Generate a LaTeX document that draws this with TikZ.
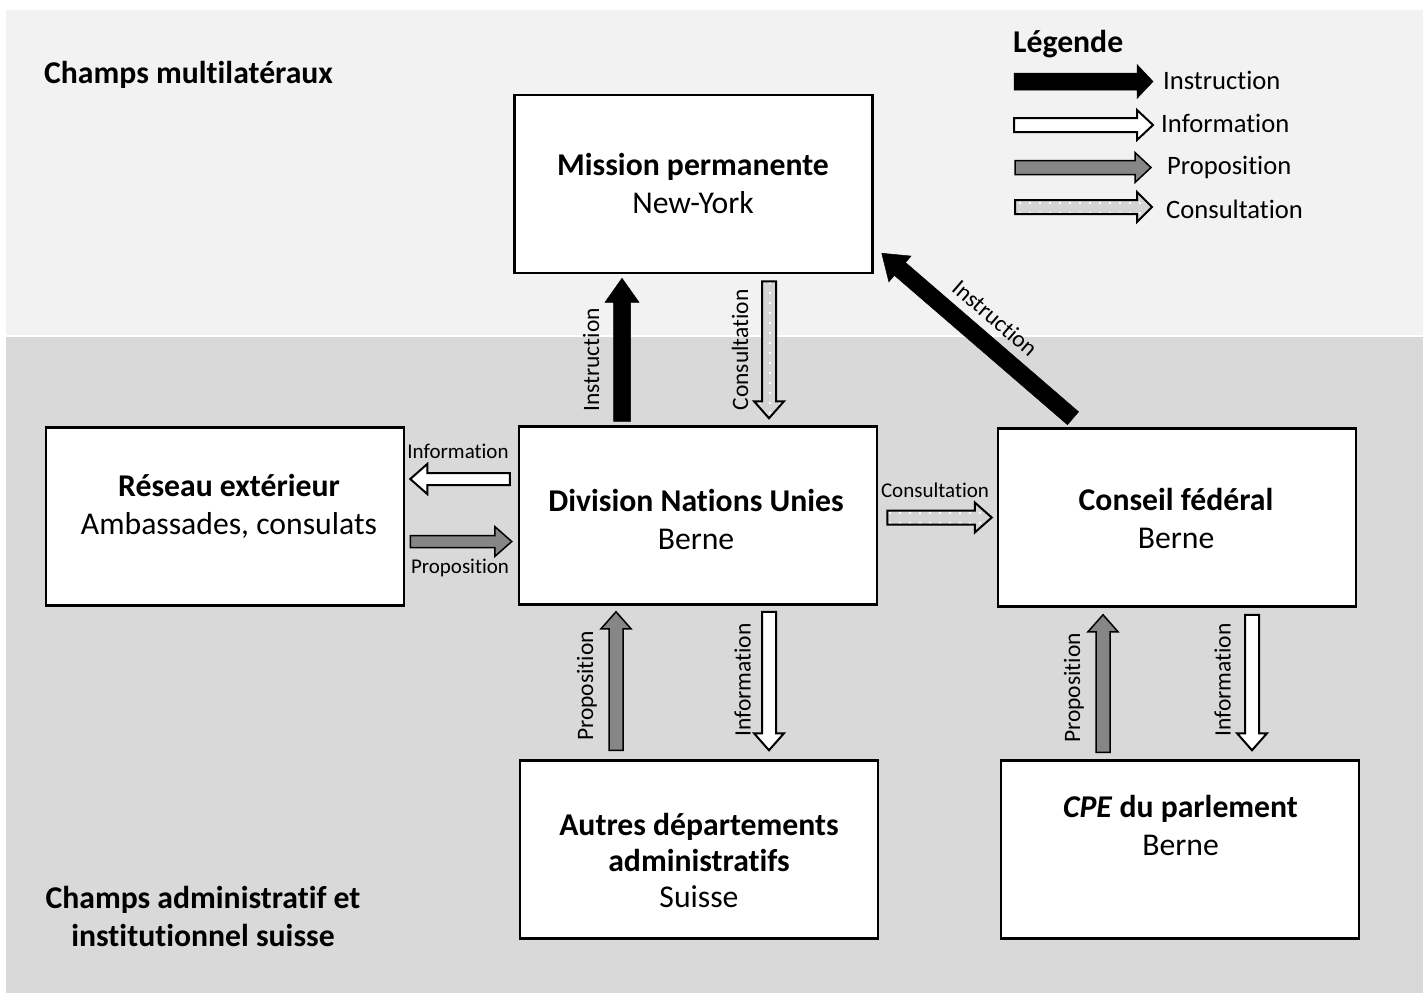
\documentclass[tikz,border=0pt]{standalone}
\usepackage{fontspec}
\setmainfont{Carlito}[Ligatures=NoCommon]
\usetikzlibrary{calc,patterns.meta}

\definecolor{bgtop}{HTML}{F2F2F2}
\definecolor{bgbot}{HTML}{D9D9D9}
\definecolor{propfill}{HTML}{868686}
\definecolor{consfill}{HTML}{D4D4D4}

\tikzset{box/.style={draw,line width=2.5pt,fill=white,minimum width=358pt,minimum height=178pt,inner sep=0pt}}
\tikzset{boxtext/.style={align=center,inner sep=0pt,font=\fontsize{31.7}{38}\selectfont}}
\tikzset{title/.style={inner sep=0pt,font=\bfseries\fontsize{31.7}{38}\selectfont}}
\tikzset{lbl/.style={inner sep=0pt,font=\fontsize{21}{24}\selectfont}}
\tikzset{vlbl/.style={inner sep=0pt,rotate=90,font=\fontsize{23.5}{26}\selectfont}}
\tikzset{leglbl/.style={inner sep=0pt,anchor=west,font=\fontsize{26.6}{30}\selectfont}}
% block arrow sizes (half shaft, half head, head length)
\tikzset{ba shaft/.store in=\bashaft,ba head/.store in=\bahead,ba len/.store in=\balen,
  ba shaft=7pt,ba head=15pt,ba len=17pt}
\tikzset{instrarrow/.style={fill=black,draw=black,line width=0.5pt,ba shaft=8.5pt,ba head=17pt,ba len=24pt}}
\tikzset{infoarrow/.style={fill=white,draw=black,line width=2pt}}
\tikzset{proparrow/.style={fill=propfill,draw=black,line width=1.5pt}}
\tikzset{consarrow/.style={preaction={fill=consfill},pattern={Dots[distance=10pt,radius=1.4pt]},
  pattern color=white,draw=black,line width=2pt}}

\newcommand{\blockarrow}[3][]{%
  \begin{scope}[#1]
    \coordinate (ba-a) at (#2);
    \coordinate (ba-b) at (#3);
    \coordinate (ba-c) at ($(ba-b)!\balen!(ba-a)$);
    \path[#1] ($(ba-a)!\bashaft!90:(ba-b)$) -- ($(ba-c)!\bashaft!-90:(ba-a)$)
      -- ($(ba-c)!\bahead!-90:(ba-a)$) -- (ba-b)
      -- ($(ba-c)!\bahead!90:(ba-a)$) -- ($(ba-c)!\bashaft!90:(ba-a)$)
      -- ($(ba-a)!\bashaft!-90:(ba-b)$) -- cycle;
  \end{scope}}

\begin{document}
\begin{tikzpicture}[x=1pt,y=-1pt]
  \useasboundingbox (0,0) rectangle (1423,993);
  % the two fields
  \fill[bgtop] (6,10) rectangle (1423,335);
  \fill[bgbot] (6,337) rectangle (1423,993);
  \node[title,anchor=west] (field1) at (44,75) {Champs multilatéraux};
  \node[title,align=center] (field2) at (203,916) {Champs administratif et\\institutionnel suisse};

  % the boxes
  \node[box] (mis) at (693.5,184) {};
  \node[box] (res) at (225,516.5) {};
  \node[box] (dnu) at (698,515.5) {};
  \node[box] (cf) at (1177,517.5) {};
  \node[box] (aut) at (699,849.5) {};
  \node[box] (cpe) at (1180,849.5) {};

  \node[boxtext] (mis-t) at ($(mis)+(-0.5,-1)$) {\textbf{Mission permanente}\\New-York};
  \node[boxtext] (res-t) at ($(res)+(4,-10.5)$) {\textbf{Réseau extérieur}\\Ambassades, consulats};
  \node[boxtext] (dnu-t) at ($(dnu)+(-2,4)$) {\textbf{Division Nations Unies}\\Berne};
  \node[boxtext] (cf-t) at ($(cf)+(-1,0.5)$) {\textbf{Conseil fédéral}\\Berne};
  \node[boxtext,font=\fontsize{31.7}{36}\selectfont] (aut-t) at ($(aut)+(0,10.5)$)
    {\textbf{Autres départements}\\\textbf{administratifs}\\Suisse};
  \node[boxtext] (cpe-t) at ($(cpe)+(0.5,-24)$) {\textbf{\textit{CPE} du parlement}\\Berne};

  % arrows between the boxes
  \blockarrow[instrarrow]{$(dnu.north)+(-76,-4)$}{$(dnu.north |- mis.south)+(-76,4)$}
  \blockarrow[consarrow]{$(dnu.north |- mis.south)+(71,7)$}{$(dnu.north)+(71,-7)$}
  \blockarrow[instrarrow]{$(cf.north)+(-104,-9)$}{$(mis.south east)+(8,-21)$}
  \blockarrow[infoarrow,ba shaft=6pt]{$(dnu.west)+(-8,-36.5)$}{$(res.east)+(5,-37.5)$}
  \blockarrow[proparrow,ba shaft=6pt]{$(res.east)+(5,25)$}{$(dnu.west)+(-6,26)$}
  \blockarrow[consarrow]{$(dnu.east)+(9,2)$}{$(cf.west)+(-5,0)$}
  \blockarrow[proparrow]{$(aut.north)+(-83,-9)$}{$(dnu.south)+(-82,6)$}
  \blockarrow[infoarrow]{$(dnu.south)+(71,6)$}{$(aut.north)+(70,-9)$}
  \blockarrow[proparrow]{$(cpe.north)+(-77,-7)$}{$(cf.south)+(-74,7)$}
  \blockarrow[infoarrow]{$(cf.south)+(75,7)$}{$(cpe.north)+(72,-9)$}

  % arrow labels
  \node[vlbl] (l-instr) at (591,360) {Instruction};
  \node[vlbl] (l-cons) at (740,350) {Consultation};
  \node[lbl,rotate=-40.8,font=\fontsize{23.5}{26}\selectfont] (l-instr2) at (995,318) {Instruction};
  \node[lbl] (l-info) at (458,451) {Information};
  \node[lbl] (l-prop) at (460,568) {Proposition};
  \node[lbl] (l-cons2) at (935,490) {Consultation};
  \node[vlbl] (l-prop2) at (587,686) {Proposition};
  \node[vlbl] (l-info2) at (742.5,680) {Information};
  \node[vlbl] (l-prop3) at (1074,688) {Proposition};
  \node[vlbl] (l-info3) at (1222.5,680) {Information};

  % legend
  \node[title,anchor=west] (leg) at (1013,44) {Légende};
  \node[leglbl] (lg-instr) at (1163,80) {Instruction};
  \node[leglbl] (lg-info) at (1161,123) {Information};
  \node[leglbl] (lg-prop) at (1167,167) {Proposition};
  \node[leglbl] (lg-cons) at (1166,209) {Consultation};
  \coordinate (lg-a1) at (1014,81.5);
  \coordinate (lg-a2) at (1014,125);
  \coordinate (lg-a3) at (1015,167.5);
  \coordinate (lg-a4) at (1015,207);
  \blockarrow[instrarrow,ba len=16pt]{lg-a1}{$(lg-a1 -| lg-instr.west)+(-10,0)$}
  \blockarrow[infoarrow,ba len=16pt]{lg-a2}{$(lg-a2 -| lg-info.west)+(-8,0)$}
  \blockarrow[proparrow,ba len=16pt]{lg-a3}{$(lg-a3 -| lg-prop.west)+(-16,0)$}
  \blockarrow[consarrow,ba len=15pt]{lg-a4}{$(lg-a4 -| lg-cons.west)+(-14,0)$}
\end{tikzpicture}
\end{document}
